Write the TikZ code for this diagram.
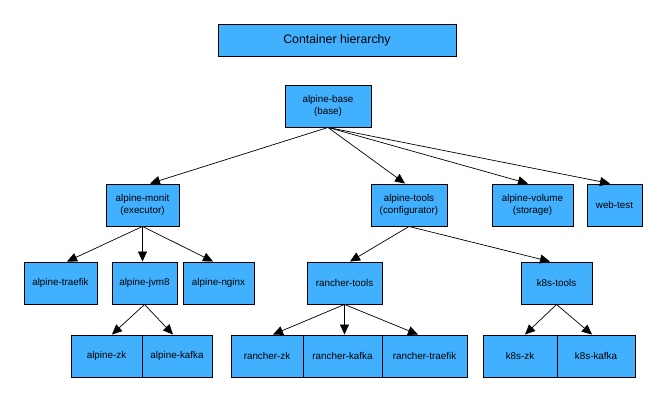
\documentclass[tikz,border=0pt]{standalone}
\usepackage{fontspec}
\setmainfont{Liberation Sans}
\usetikzlibrary{arrows.meta,calc}
\definecolor{boxBlue}{RGB}{64,176,255}
\newcommand{\boxFont}{\fontsize{8.4}{10.2}\selectfont}
\newcommand{\titleFont}{\fontsize{10.5}{12}\selectfont}

\begin{document}
\begin{tikzpicture}[x=0.03cm, y=-0.03cm,
  box/.style={draw=black, fill=boxBlue, line width=0.8pt, minimum height=1.26cm,
    inner sep=0pt, align=center, font=\boxFont},
  arr/.style={-{Triangle[length=0.3cm,width=0.27cm]}, line width=0.6pt}]
\useasboundingbox (0,0) rectangle (666,401);

\node (title) [box, minimum width=7.14cm, minimum height=0.96cm, font=\titleFont] at (337,40) {Container hierarchy};
\node (base) [box, minimum width=2.58cm] at (328,106) {alpine-base\\(base)};

% second row
\node (monit) [box, minimum width=2.19cm] at (142.5,205) {alpine-monit\\(executor)};
\node (tools) [box, minimum width=2.28cm] at (409,205) {alpine-tools\\(configurator)};
\node (volume) [box, minimum width=2.43cm] at (532.5,205) {alpine-volume\\(storage)};
\node (webtest) [box, minimum width=1.65cm] at (614.5,205) {web-test};

% third row
\node (traefik) [box, minimum width=2.19cm] at (60.5,283) {alpine-traefik};
\node (jvm) [box, minimum width=1.95cm] at (144.5,283) {alpine-jvm8};
\node (nginx) [box, minimum width=2.13cm] at (218.5,283) {alpine-nginx};
\node (rtools) [box, minimum width=2.25cm] at (344.5,283) {rancher-tools};
\node (ktools) [box, minimum width=2.13cm] at (556.5,283) {k8s-tools};

% bottom row
\node (azk) [box, minimum width=2.13cm] at (106.5,356) {alpine-zk};
\node (akafka) [box, minimum width=2.10cm] at (177,356) {alpine-kafka};
\node (rzk) [box, minimum width=2.16cm] at (267,356) {rancher-zk};
\node (rkafka) [box, minimum width=2.37cm] at (342.5,356) {rancher-kafka};
\node (rtraefik) [box, minimum width=2.55cm] at (424.5,356) {rancher-traefik};
\node (kzk) [box, minimum width=2.22cm] at (520,356) {k8s-zk};
\node (kkafka) [box, minimum width=2.34cm] at (596,356) {k8s-kafka};

\draw[arr] (base.south) -- ($(monit.north)+(7.5,0)$);
\draw[arr] (base.south) -- ($(tools.north)+(-4,0)$);
\draw[arr] (base.south) -- ($(volume.north)+(-4.5,0)$);
\draw[arr] (base.south) -- ($(webtest.north)+(-4.5,0)$);

\draw[arr] (monit.south) -- ($(traefik.north)+(6.5,0)$);
\draw[arr] (monit.south) -- ($(jvm.north)+(-2,0)$);
\draw[arr] (monit.south) -- ($(nginx.north)+(-5.5,0)$);
\draw[arr] (tools.south) -- ($(rtools.north)+(5.5,0)$);
\draw[arr] (tools.south) -- ($(ktools.north)+(-6.5,0)$);

\draw[arr] (jvm.south) -- ($(azk.north)+(5.5,0)$);
\draw[arr] (jvm.south) -- ($(akafka.north)+(-4,0)$);
\draw[arr] (rtools.south) -- ($(rzk.north)+(6,0)$);
\draw[arr] (rtools.south) -- ($(rkafka.north)+(2,0)$);
\draw[arr] (rtools.south) -- ($(rtraefik.north)+(-6.5,0)$);
\draw[arr] (ktools.south) -- ($(kzk.north)+(5,0)$);
\draw[arr] (ktools.south) -- ($(kkafka.north)+(-4,0)$);
\end{tikzpicture}
\end{document}
